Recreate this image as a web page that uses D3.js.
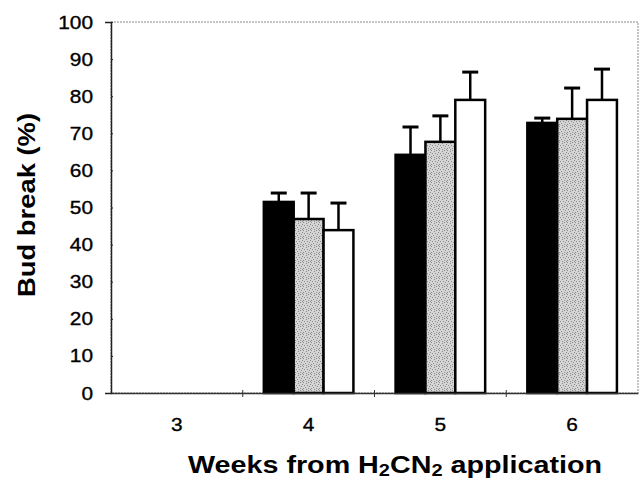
<!DOCTYPE html>
<html>
<head>
<meta charset="utf-8">
<script src="https://cdn.jsdelivr.net/npm/d3@7"></script>
<style>
  body { margin: 0; background: #fff; }
  text { font-family: Arial, "Liberation Sans", sans-serif; }
</style>
</head>
<body>
<div id="chart"></div>
<script>
// datos
const weeks = ["3", "4", "5", "6"];
const series = ["black", "gray", "white"];
const meanBlack = [0, 51.5, 64.2, 72.8];
const meanGray = [0, 46.9, 67.7, 73.9];
const meanWhite = [0, 43.9, 79.0, 79.0];
const errBlack = [0, 2.4, 7.5, 1.3];
const errGray = [0, 7.0, 7.0, 8.3];
const errWhite = [0, 7.3, 7.5, 8.3];
const yTicks = [0, 10, 20, 30, 40, 50, 60, 70, 80, 90, 100];

const width = 644, height = 485;
const margin = { left: 111, right: 6, top: 22, bottom: 92 };
const innerW = width - margin.left - margin.right;
const innerH = height - margin.top - margin.bottom;

const svg = d3.select('#chart').append('svg')
  .attr('width', width).attr('height', height);

// textura punteada (irregular) para la serie gris
const defs = svg.append('defs');
const pat = defs.append('pattern')
  .attr('id', 'stipple').attr('width', 8).attr('height', 8)
  .attr('patternUnits', 'userSpaceOnUse');
pat.append('rect').attr('width', 8).attr('height', 8).attr('fill', '#d4d4d4');
const dots = [[0, 0], [5, 0], [3, 1], [7, 2], [1, 3], [4, 3], [6, 4], [2, 5], [0, 6], [5, 6], [3, 7], [7, 7]];
dots.forEach(([px, py]) => {
  pat.append('rect').attr('x', px).attr('y', py).attr('width', 1).attr('height', 1).attr('fill', '#909090');
});

const g = svg.append('g').attr('transform', `translate(${margin.left},${margin.top})`);

const x = d3.scaleBand().domain(weeks).range([0, innerW]).paddingInner(0).paddingOuter(0);
const xs = d3.scaleBand().domain(series).range([x.bandwidth() * 0.16, x.bandwidth() * 0.84]).padding(0);
const y = d3.scaleLinear().domain([0, 100]).range([innerH, 0]);

// marco del area
g.append('rect')
  .attr('x', 0).attr('y', 0).attr('width', innerW).attr('height', innerH)
  .attr('fill', 'none').attr('stroke', '#888').attr('stroke-width', 1)
  .attr('stroke-dasharray', '2,1');

const fills = { black: '#000', gray: 'url(#stipple)', white: '#fff' };
const data = [];
weeks.forEach((w, i) => {
  data.push({ w, s: 'black', v: meanBlack[i], e: errBlack[i] });
  data.push({ w, s: 'gray', v: meanGray[i], e: errGray[i] });
  data.push({ w, s: 'white', v: meanWhite[i], e: errWhite[i] });
});
const shown = data.filter(d => d.v > 0);

// barras
g.selectAll('.bar').data(shown).join('rect')
  .attr('class', 'bar')
  .attr('x', d => x(d.w) + xs(d.s))
  .attr('y', d => y(d.v))
  .attr('width', xs.bandwidth())
  .attr('height', d => y(0) - y(d.v))
  .attr('fill', d => fills[d.s])
  .attr('stroke', '#000').attr('stroke-width', 2.5);

// barras de error
const eb = g.selectAll('.err').data(shown).join('g').attr('class', 'err');
eb.append('line')
  .attr('x1', d => x(d.w) + xs(d.s) + xs.bandwidth() / 2)
  .attr('x2', d => x(d.w) + xs(d.s) + xs.bandwidth() / 2)
  .attr('y1', d => y(d.v)).attr('y2', d => y(d.v + d.e))
  .attr('stroke', '#000').attr('stroke-width', 2.5);
eb.append('line')
  .attr('x1', d => x(d.w) + xs(d.s) + xs.bandwidth() / 2 - 8)
  .attr('x2', d => x(d.w) + xs(d.s) + xs.bandwidth() / 2 + 8)
  .attr('y1', d => y(d.v + d.e)).attr('y2', d => y(d.v + d.e))
  .attr('stroke', '#000').attr('stroke-width', 3);

// eje y
const yAxis = g.append('g')
  .call(d3.axisLeft(y).tickValues(yTicks).tickSize(6).tickPadding(12));
yAxis.select('.domain').attr('stroke', '#222').attr('stroke-width', 1.5);
yAxis.selectAll('.tick line').attr('stroke', '#222').attr('x2', 2);
yAxis.selectAll('.tick text')
  .attr('font-size', 19).attr('fill', '#000')
  .attr('stroke', '#000').attr('stroke-width', 0.35)
  .attr('textLength', d => String(d).length * 11.6)
  .attr('lengthAdjust', 'spacingAndGlyphs');

// eje x con marcas entre categorias
const xAxis = g.append('g').attr('transform', `translate(0,${innerH})`)
  .call(d3.axisBottom(x).tickSize(0).tickPadding(25));
xAxis.select('.domain').attr('stroke', '#333').attr('stroke-width', 1.5);
xAxis.selectAll('.tick text')
  .attr('font-size', 19).attr('fill', '#000')
  .attr('stroke', '#000').attr('stroke-width', 0.35)
  .attr('textLength', 11.6).attr('lengthAdjust', 'spacingAndGlyphs');
g.selectAll('.xsep').data(weeks.slice(1)).join('line')
  .attr('x1', d => x(d)).attr('x2', d => x(d))
  .attr('y1', innerH - 3).attr('y2', innerH + 4)
  .attr('stroke', '#333').attr('stroke-width', 1);

// titulos
svg.append('text')
  .attr('transform', `translate(35,${205}) rotate(-90)`)
  .attr('text-anchor', 'middle')
  .attr('font-size', 23).attr('font-weight', 'bold')
  .attr('textLength', 184).attr('lengthAdjust', 'spacingAndGlyphs')
  .text('Bud break (%)');

const xt = svg.append('text')
  .attr('x', 188).attr('y', 473)
  .attr('font-size', 23).attr('font-weight', 'bold')
  .attr('textLength', 414).attr('lengthAdjust', 'spacingAndGlyphs');
xt.append('tspan').text('Weeks from H');
xt.append('tspan').attr('font-size', 16).attr('dy', 3).text('2');
xt.append('tspan').attr('dy', -3).text('CN');
xt.append('tspan').attr('font-size', 16).attr('dy', 3).text('2');
xt.append('tspan').attr('dy', -3).text(' application');
</script>
</body>
</html>
